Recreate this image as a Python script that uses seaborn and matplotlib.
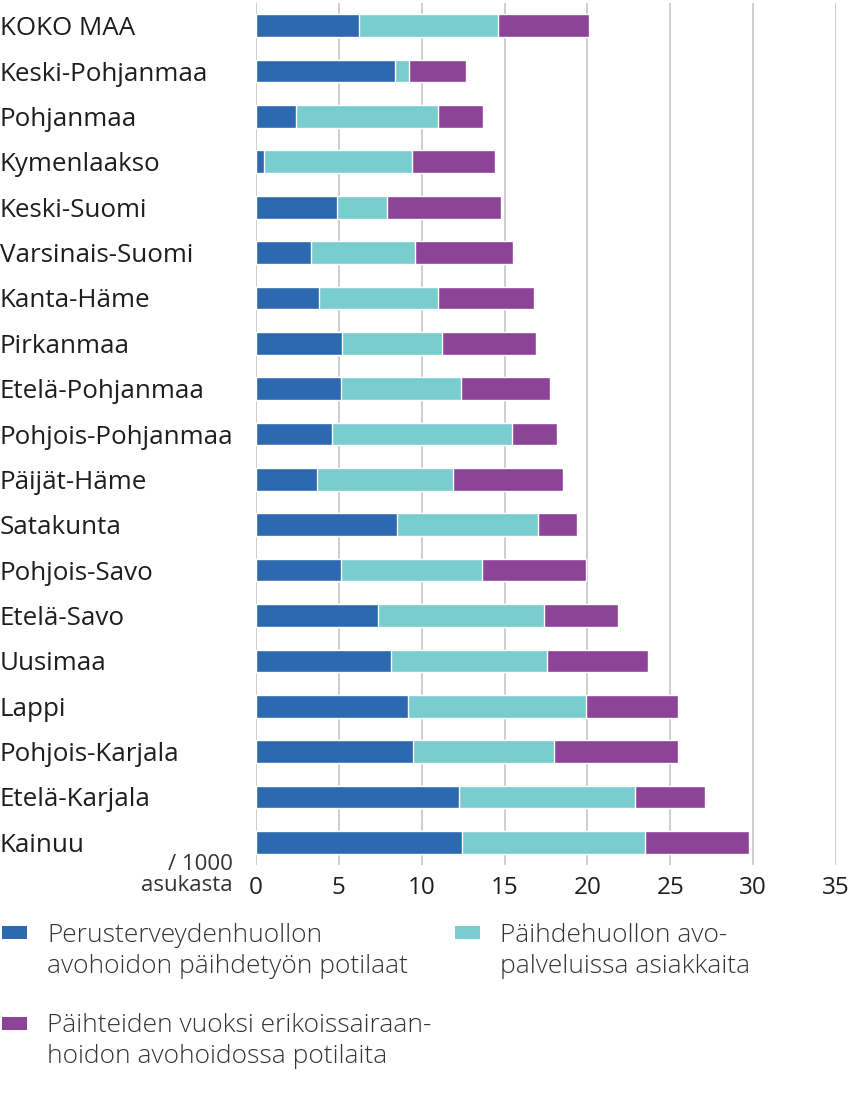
import numpy as np
import pandas as pd
import seaborn as sns
import matplotlib.pyplot as plt
from matplotlib.patches import Rectangle

# data (per 1000 inhabitants)
regions = ['KOKO MAA', 'Keski-Pohjanmaa', 'Pohjanmaa', 'Kymenlaakso', 'Keski-Suomi',
           'Varsinais-Suomi', 'Kanta-Häme', 'Pirkanmaa', 'Etelä-Pohjanmaa',
           'Pohjois-Pohjanmaa', 'Päijät-Häme', 'Satakunta', 'Pohjois-Savo',
           'Etelä-Savo', 'Uusimaa', 'Lappi', 'Pohjois-Karjala', 'Etelä-Karjala', 'Kainuu']
perus = [6.2, 8.4, 2.4, 0.5, 4.9, 3.3, 3.8, 5.2, 5.15, 4.6, 3.7, 8.5, 5.15,
         7.35, 8.15, 9.2, 9.5, 12.25, 12.45]
paihde = [8.4, 0.85, 8.6, 8.9, 3.0, 6.3, 7.2, 6.0, 7.2, 10.85, 8.2, 8.5, 8.5,
          10.0, 9.4, 10.7, 8.5, 10.65, 11.0]
erik = [5.5, 3.4, 2.7, 5.05, 6.9, 5.9, 5.75, 5.7, 5.4, 2.7, 6.65, 2.4, 6.25,
        4.5, 6.1, 5.55, 7.45, 4.2, 6.3]
legend_labels = ['Perusterveydenhuollon\navohoidon päihdetyön potilaat',
                 'Päihdehuollon avo-\npalveluissa asiakkaita',
                 'Päihteiden vuoksi erikoissairaan-\nhoidon avohoidossa potilaita']
colors = ['#2d69b1', '#79cdcf', '#8c4398']

df = pd.DataFrame({'alue': regions, 'perus': perus, 'paihde': paihde, 'erik': erik})
df['c1'] = df['perus']
df['c2'] = df['perus'] + df['paihde']
df['c3'] = df['c2'] + df['erik']

sns.set_style('white')
plt.rcParams['font.family'] = ['Open Sans', 'DejaVu Sans']
txt = '#1e1e1e'

W, H = 852, 1102
fig = plt.figure(figsize=(W / 100, H / 100), dpi=100)
fig.patch.set_alpha(0)
ax = fig.add_axes([256 / W, 1 - 865 / H, 580 / W, 862 / H])
ax.set_facecolor('white')

# stacked bars: draw cumulative totals, longest first
for col, c in zip(['c3', 'c2', 'c1'], colors[::-1]):
    sns.barplot(data=df, x=col, y='alue', orient='h', color=c, width=0.5,
                saturation=1, ax=ax, zorder=3)

ax.set_xlim(0, 35)
ax.set_ylim(18.5, -0.5)
ax.set_xticks(np.arange(0, 36, 5))
ax.grid(axis='x', color='#c6c6c6', linewidth=1.2, zorder=0)
ax.set_axisbelow(True)
for s in ax.spines.values():
    s.set_visible(False)
ax.set_xlabel('')
ax.set_ylabel('')
ax.tick_params(axis='y', length=0, pad=256 * 0.72, labelsize=18.7, labelcolor=txt)
ax.tick_params(axis='x', length=0, pad=8, labelsize=17.5, labelcolor=txt)
for t in ax.get_yticklabels():
    t.set_horizontalalignment('left')

fig.text(233 / W, 1 - 875 / H, '/ 1000\nasukasta', ha='right', va='center',
         fontsize=16, color='#333333', linespacing=1.05)

# legend: square lined up with first text line
leg_pos = [(2, 926, 47, 951), (455, 926, 500, 951), (2, 1017, 47, 1041)]
for (sx, sy, tx, ty), c, lab in zip(leg_pos, colors, legend_labels):
    fig.add_artist(Rectangle((sx / W, 1 - (sy + 13) / H), 25 / W, 13 / H,
                             transform=fig.transFigure, facecolor=c, edgecolor='none'))
    fig.text(tx / W, 1 - ty / H, lab, ha='left', va='center', fontsize=19,
             fontweight='light', color='#333333', linespacing=1.34)

fig.savefig('out.png', dpi=100, facecolor=(0, 0, 0, 0))
